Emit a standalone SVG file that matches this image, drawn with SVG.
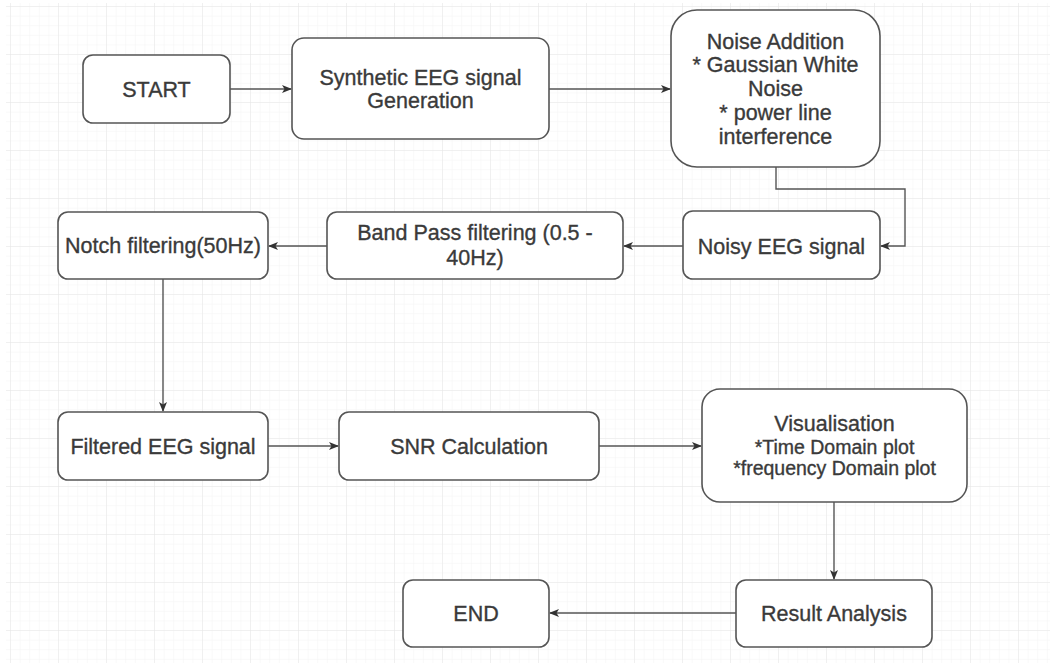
<svg xmlns="http://www.w3.org/2000/svg" width="1050" height="669" viewBox="0 0 1050 669">
  <style>
    .box { fill: #ffffff; stroke: #555555; stroke-width: 1.6; }
    .lbl { font-family: "Liberation Sans", Arial, sans-serif; font-size: 21.5px; fill: #3a3a3a; stroke: #3a3a3a; stroke-width: 0.35; text-anchor: middle; }
    .sm { font-size: 19.5px; }
    .edge { fill: none; stroke: #555555; stroke-width: 1.4; }
  </style>
  <defs>
    <pattern id="minor" width="9.6" height="9.6" patternUnits="userSpaceOnUse" x="1.4" y="7">
      <path d="M9.6 0 V9.6 M0 9.6 H9.6" fill="none" stroke="#f3f3f3" stroke-width="1"/>
    </pattern>
    <pattern id="major" width="48" height="48" patternUnits="userSpaceOnUse" x="11" y="7">
      <path d="M48 0 V48 M0 48 H48" fill="none" stroke="#e6e6e6" stroke-width="1"/>
    </pattern>
    <marker id="arrow" viewBox="0 0 10 8" refX="9" refY="4" markerWidth="10" markerHeight="8" markerUnits="userSpaceOnUse" orient="auto">
      <path d="M0,0 L10,4 L0,8 L2.5,4 z" fill="#333333"/>
    </marker>
  </defs>

  <!-- canvas with grid -->
  <rect x="0" y="0" width="1050" height="669" fill="#ffffff"/>
  <rect x="6" y="3" width="1044" height="660" fill="url(#minor)"/>
  <rect x="6" y="3" width="1044" height="660" fill="url(#major)"/>

  <!-- connectors -->
  <g id="connectors">
    <path class="edge" d="M230 89 H291" marker-end="url(#arrow)"/>
    <path class="edge" d="M549 89 H670" marker-end="url(#arrow)"/>
    <path class="edge" d="M776 167 V189 H905 V246 H881" marker-end="url(#arrow)"/>
    <path class="edge" d="M683 246 H624" marker-end="url(#arrow)"/>
    <path class="edge" d="M327 246 H269" marker-end="url(#arrow)"/>
    <path class="edge" d="M163 279 V411" marker-end="url(#arrow)"/>
    <path class="edge" d="M268 446 H338" marker-end="url(#arrow)"/>
    <path class="edge" d="M599 446 H701" marker-end="url(#arrow)"/>
    <path class="edge" d="M834 502 V579" marker-end="url(#arrow)"/>
    <path class="edge" d="M736 613 H550" marker-end="url(#arrow)"/>
  </g>

  <!-- nodes -->
  <g id="start">
    <rect class="box" x="83" y="55" width="147" height="68" rx="10"/>
    <text class="lbl" x="156.5" y="96.5">START</text>
  </g>
  <g id="synthetic">
    <rect class="box" x="292" y="38" width="257" height="101" rx="12"/>
    <text class="lbl" x="420.5" y="84.5">Synthetic EEG signal</text>
    <text class="lbl" x="420.5" y="107.5">Generation</text>
  </g>
  <g id="noise-addition">
    <rect class="box" x="671" y="10" width="209" height="157" rx="26"/>
    <text class="lbl" x="775.5" y="49">Noise Addition</text>
    <text class="lbl" x="775.5" y="72">* Gaussian White</text>
    <text class="lbl" x="775.5" y="96">Noise</text>
    <text class="lbl" x="775.5" y="120">* power line</text>
    <text class="lbl" x="775.5" y="144">interference</text>
  </g>
  <g id="noisy-eeg">
    <rect class="box" x="683" y="211" width="197" height="68" rx="10"/>
    <text class="lbl" x="781.5" y="253.5">Noisy EEG signal</text>
  </g>
  <g id="band-pass">
    <rect class="box" x="327" y="212" width="296" height="67" rx="10"/>
    <text class="lbl" x="475" y="240">Band Pass filtering (0.5 -</text>
    <text class="lbl" x="475" y="265">40Hz)</text>
  </g>
  <g id="notch">
    <rect class="box" x="58" y="212" width="210" height="67" rx="10"/>
    <text class="lbl" x="163" y="252.5">Notch filtering(50Hz)</text>
  </g>
  <g id="filtered-eeg">
    <rect class="box" x="58" y="412" width="210" height="68" rx="10"/>
    <text class="lbl" x="163" y="453.5">Filtered EEG signal</text>
  </g>
  <g id="snr">
    <rect class="box" x="339" y="412" width="260" height="68" rx="10"/>
    <text class="lbl" x="469" y="453.5">SNR Calculation</text>
  </g>
  <g id="visualisation">
    <rect class="box" x="702" y="389" width="265" height="113" rx="18"/>
    <text class="lbl" x="834.5" y="431">Visualisation</text>
    <text class="lbl sm" x="834.5" y="454">*Time Domain plot</text>
    <text class="lbl sm" x="834.5" y="475">*frequency Domain plot</text>
  </g>
  <g id="result">
    <rect class="box" x="736" y="580" width="196" height="67" rx="10"/>
    <text class="lbl" x="834" y="620.5">Result Analysis</text>
  </g>
  <g id="end">
    <rect class="box" x="403" y="580" width="146" height="67" rx="10"/>
    <text class="lbl" x="476" y="620.5">END</text>
  </g>
</svg>
